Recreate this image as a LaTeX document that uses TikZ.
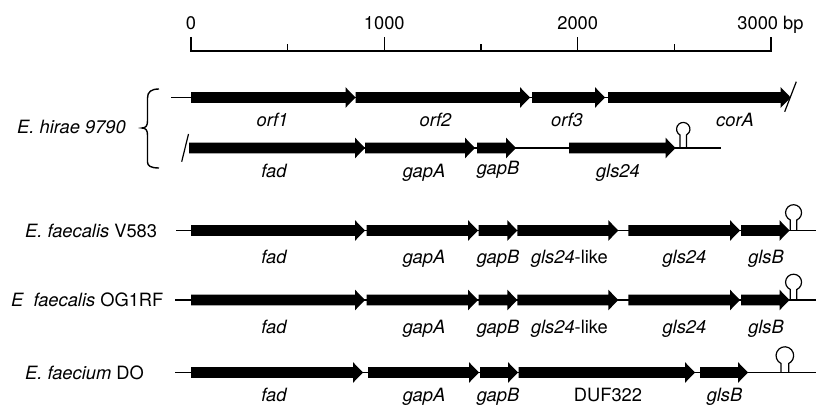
\documentclass[tikz,border=0pt]{standalone}
\usepackage{fontspec}
\setmainfont{TeX Gyre Heros}
\newcommand{\genearr}[3]{%
  \fill (#1,#3-5.3) -- (#2-10,#3-5.3) -- (#2-10,#3-10.3) -- (#2,#3) -- (#2-10,#3+10.3) -- (#2-10,#3+5.3) -- (#1,#3+5.3) -- cycle;}
\newcommand{\hairpin}[5]{%
  \draw[thinline] (#1,#2) -- (#1,#2-#5) arc[start angle={acos(-#3/(2*#4))}, end angle={540-acos(-#3/(2*#4))}, radius=#4] -- (#1+#3,#2);}
\begin{document}
\begin{tikzpicture}[x=1pt,y=-1pt,
  thinline/.style={line width=1.2pt, line cap=butt},
  lbl/.style={font=\fontsize{18.3}{22}\selectfont\itshape, anchor=base, inner sep=0pt},
  num/.style={font=\fontsize{18.3}{22}\selectfont, anchor=base, inner sep=0pt},
  species/.style={font=\fontsize{18.3}{22}\selectfont, anchor=base west, inner sep=0pt}]
\useasboundingbox (0,0) rectangle (816,406);
\fill[white] (0,0) rectangle (816,406);

% scale bar
\draw[thinline] (191,37) -- (191,51) -- (771,51) -- (771,37);
\draw[thinline] (384.3,51) -- (384.3,37);
\draw[thinline] (577.7,51) -- (577.7,37);
\foreach \xx in {287.7,481,674.3} \draw[thinline] (\xx,51) -- (\xx,44);
\node[num] (s0) at (191,29.3) {0};
\node[num] (s1) at (384.3,29.3) {1000};
\node[num] (s2) at (577.7,29.3) {2000};
\node[num] (s3) at (770.5,29.3) {3000 bp};

% E. hirae
\node[species] (hirae) at (17,133.3) {\itshape E. hirae 9790};
\draw[line width=1.4pt] (159,89) .. controls (151,89) and (147.5,92) .. (147.5,98) -- (147.5,121) .. controls (147.5,125.5) and (146,128) .. (142,128) .. controls (146,128) and (147.5,130.5) .. (147.5,135) -- (147.5,162) .. controls (147.5,166) and (151,168) .. (159,168);

% row 1
\draw[thinline] (171,97.5) -- (608,97.5);
\genearr{191}{355.5}{97.5}
\genearr{355.5}{530}{97.5}
\genearr{532}{605}{97.5}
\genearr{608}{790.7}{97.5}
\draw[thinline] (784.7,111.7) -- (796.3,81.7);
\node[lbl] (orf1) at (272.5,126.5) {orf1};
\node[lbl] (orf2) at (435.5,126.5) {orf2};
\node[lbl] (orf3) at (567,126.5) {orf3};
\node[lbl] (corA) at (735,126.5) {corA};

% row 2
\draw[thinline] (189,148) -- (721,148);
\draw[thinline] (181.7,161.7) -- (188.5,134);
\genearr{189}{365}{148}
\genearr{365}{475}{148}
\genearr{477}{516}{148}
\genearr{569}{675.5}{148}
\hairpin{680}{148}{6.5}{6.7}{13}
\node[lbl] (fad2) at (274,178) {fad};
\node[lbl] (gapA2) at (424,178) {gapA};
\node[lbl] (gapB2) at (498,174.5) {gapB};
\node[lbl] (gls2) at (618,178) {gls24};

% rows 3 and 4
\node[species] (v583) at (25,237) {{\itshape E. faecalis} V583};
\node[species] (og1rf) at (11,306.5) {{\itshape E\ \ faecalis} OG1RF};
\draw[thinline] (176,230.5) -- (816,230.5);
\draw[thinline] (175,300) -- (816,300);
\foreach \yy/\by/\i in {230.5/263.3/3, 300/333.3/4} {
  \genearr{191}{365}{\yy}
  \genearr{366.7}{478}{\yy}
  \genearr{478.5}{517.3}{\yy}
  \genearr{517.3}{618.3}{\yy}
  \genearr{628.3}{740}{\yy}
  \genearr{741}{789.5}{\yy}
  \hairpin{790.3}{\yy}{6.5}{8}{10.5}
  \node[lbl] (fad\i) at (274,\by) {fad};
  \node[lbl] (gapA\i) at (424,\by) {gapA};
  \node[lbl] (gapB\i) at (498,\by) {gapB};
  \node[lbl] (glslike\i) at (569.5,\by) {gls24\upshape -like};
  \node[lbl] (gls\i) at (684.5,\by) {gls24};
  \node[lbl] (glsB\i) at (766,\by) {glsB};
}

% row 5
\node[species] (do) at (25,379) {{\itshape E. faecium} DO};
\draw[thinline] (175,372.5) -- (816,372.5);
\genearr{191}{363}{372.5}
\genearr{368}{479}{372.5}
\genearr{480}{518}{372.5}
\genearr{518.5}{695}{372.5}
\genearr{700}{748}{372.5}
\hairpin{781}{372.5}{7.7}{8.8}{9}
\node[lbl] (fad5) at (274,401.5) {fad};
\node[lbl] (gapA5) at (424,401.5) {gapA};
\node[lbl] (gapB5) at (498,401.5) {gapB};
\node[num] (duf) at (608,401.5) {DUF322};
\node[lbl] (glsB5) at (724.5,401.5) {glsB};
\end{tikzpicture}
\end{document}
